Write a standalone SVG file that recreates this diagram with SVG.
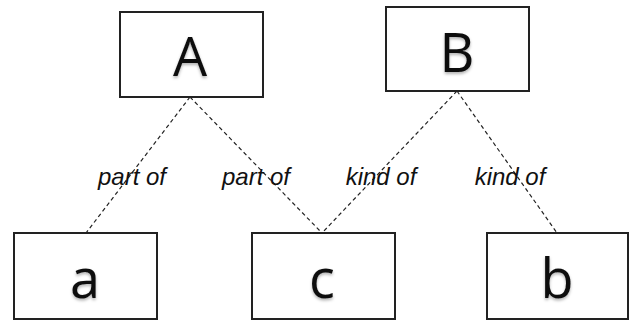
<svg xmlns="http://www.w3.org/2000/svg" width="630" height="321" viewBox="0 0 630 321">
<defs>
<style>
.box{fill:#fff;stroke:#222;stroke-width:2}
.big{font-family:"Open Sans","Liberation Sans",sans-serif;font-size:54px;fill:#111;text-anchor:middle;filter:url(#sh)}
.lbl{font-family:"Liberation Sans",Arial,sans-serif;font-style:italic;font-size:24px;fill:#111;text-anchor:middle}
.edge{stroke:#222;stroke-width:1.2;stroke-dasharray:4 3;fill:none}
</style>
<filter id="sh" x="-20%" y="-20%" width="140%" height="150%">
<feDropShadow dx="0" dy="2" stdDeviation="1.5" flood-color="#000" flood-opacity="0.3"/>
</filter>
</defs>
<rect width="630" height="321" fill="#fff"/>
<g id="connectors">
<line class="edge" x1="190" y1="97" x2="86" y2="233"/>
<line class="edge" x1="190" y1="97" x2="322" y2="233"/>
<line class="edge" x1="457" y1="91" x2="322" y2="233"/>
<line class="edge" x1="457" y1="91" x2="557" y2="233"/>
<text class="lbl" x="132" y="185">part of</text>
<text class="lbl" x="256" y="185">part of</text>
<text class="lbl" x="381" y="185">kind of</text>
<text class="lbl" x="510" y="185">kind of</text>
</g>
<g id="A"><rect class="box" x="120" y="12" width="143" height="85"/><text class="big" x="190" y="76">A</text></g>
<g id="B"><rect class="box" x="386" y="7" width="143" height="84"/><text class="big" x="457" y="72">B</text></g>
<g id="a"><rect class="box" x="14" y="233" width="143" height="86"/><text class="big" x="85" y="298">a</text></g>
<g id="c"><rect class="box" x="252" y="233" width="143" height="86"/><text class="big" x="322" y="298">c</text></g>
<g id="b"><rect class="box" x="487" y="233" width="141" height="86"/><text class="big" x="557" y="298">b</text></g>
</svg>
